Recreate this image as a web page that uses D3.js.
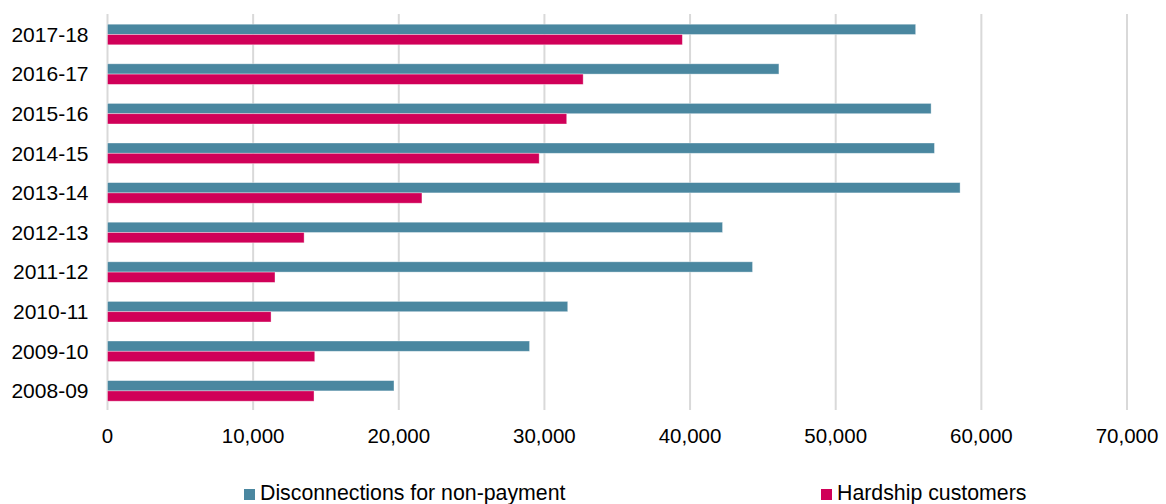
<!DOCTYPE html>
<html>
<head>
<meta charset="utf-8">
<script src="https://cdn.jsdelivr.net/npm/d3@7"></script>
<style>
    body { margin: 0; background: #fff; }
    text { font-family: "Liberation Sans", Arial, sans-serif; fill: #000; }
</style>
</head>
<body>
<div id="vis"></div>
<script>
// Chart data
const years = ['2008-09', '2009-10', '2010-11', '2011-12', '2012-13', '2013-14', '2014-15', '2015-16', '2016-17', '2017-18']
const disconnections = [19670, 28980, 31600, 44290, 42230, 58540, 56780, 56550, 46100, 55490]
const hardship = [14180, 14230, 11230, 11500, 13500, 21590, 29640, 31530, 32660, 39470]
const xTicks = [0, 10000, 20000, 30000, 40000, 50000, 60000, 70000]
const seriesNames = ['Disconnections for non-payment', 'Hardship customers']
const seriesColors = ['#4a87a0', '#d00058']

const margin = {left: 107.5, top: 14, bottom: 94, right: 39}
const width = 1166 - margin.left - margin.right
const height = 504 - margin.top - margin.bottom

let svg = d3.select('#vis')
    .append('svg')
    .attr('width', 1166)
    .attr('height', 504)

let rows = years.map((y, i) => ({year: y, values: [disconnections[i], hardship[i]]}))

let xScale = d3.scaleLinear([0, 70000], [margin.left, margin.left + width])

// newest year at the top
let yScale = d3.scaleBand(years.slice().reverse(), [margin.top, margin.top + height])

let groupHeight = yScale.bandwidth() * 0.52
let subScale = d3.scaleBand([0, 1], [0, groupHeight])

// gridlines
svg.selectAll('.grid')
    .data(xTicks)
    .enter()
    .append('line')
        .attr('class', 'grid')
        .attr('x1', d => xScale(d))
        .attr('x2', d => xScale(d))
        .attr('y1', margin.top)
        .attr('y2', margin.top + height)
        .attr('stroke', '#d9d9d9')
        .attr('stroke-width', 2)

// bars
let groups = svg.selectAll('.row')
    .data(rows)
    .enter()
    .append('g')
        .attr('class', 'row')
        .attr('transform', d => `translate(0, ${yScale(d.year) + (yScale.bandwidth() - groupHeight) / 2 + 0.7})`)

groups.selectAll('rect')
    .data(d => d.values)
    .enter()
    .append('rect')
        .attr('x', xScale(0))
        .attr('y', (d, i) => subScale(i))
        .attr('width', d => xScale(d) - xScale(0))
        .attr('height', subScale.bandwidth())
        .attr('fill', (d, i) => seriesColors[i])
        .attr('stroke', 'rgba(255,255,255,0.45)')
        .attr('stroke-width', 0.8)

// year labels
svg.selectAll('.year-label')
    .data(years)
    .enter()
    .append('text')
        .attr('class', 'year-label')
        .attr('x', 88.5)
        .attr('y', d => yScale(d) + yScale.bandwidth() / 2 + 0.7)
        .attr('dy', '0.35em')
        .attr('text-anchor', 'end')
        .style('font-size', '21px')
        .text(d => d)

// x axis labels
let fmt = d3.format(',')
svg.selectAll('.x-label')
    .data(xTicks)
    .enter()
    .append('text')
        .attr('class', 'x-label')
        .attr('x', d => xScale(d))
        .attr('y', 443)
        .attr('text-anchor', 'middle')
        .style('font-size', '20.5px')
        .text(d => fmt(d))

// legend
const legendX = [244, 821]
let legend = svg.selectAll('.legend')
    .data(seriesNames)
    .enter()
    .append('g')
        .attr('class', 'legend')
        .attr('transform', (d, i) => `translate(${legendX[i]}, 489)`)

legend.append('rect')
    .attr('width', 11)
    .attr('height', 11)
    .attr('fill', (d, i) => seriesColors[i])

legend.append('text')
    .attr('x', 16)
    .attr('y', 11)
    .style('font-size', '21.3px')
    .text(d => d)
</script>
</body>
</html>
